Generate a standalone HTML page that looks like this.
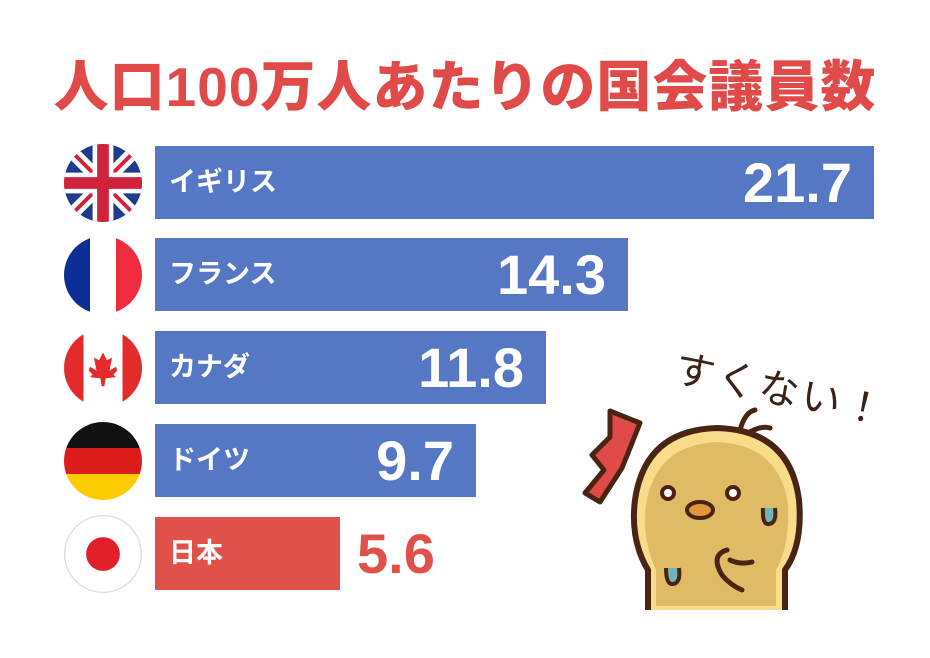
<!DOCTYPE html>
<html><head><meta charset="utf-8"><style>
body{margin:0;width:930px;height:658px;background:#fff;overflow:hidden;position:relative;font-family:"Liberation Sans","Noto Sans CJK JP",sans-serif}
.t{position:absolute;top:42px;left:0;width:930px;text-align:center;font-size:55px;font-weight:900;color:#e04a48;letter-spacing:1px}
.bar{position:absolute;left:155px;height:73px;background:#5677c4;color:#fff}
.lab{position:absolute;left:14px;top:0;line-height:73px;font-size:27px;font-weight:bold}
.val{position:absolute;right:22px;top:0;line-height:73px;font-size:56px;font-weight:bold}
.flag{position:absolute;left:64px;width:78px;height:78px;border-radius:50%;overflow:hidden}
</style></head><body>
<div class="t">人口100万人あたりの国会議員数</div>

<div class="bar" style="top:146px;width:719px"><span class="lab">イギリス</span><span class="val">21.7</span></div>
<div class="bar" style="top:238px;width:473px"><span class="lab">フランス</span><span class="val">14.3</span></div>
<div class="bar" style="top:331px;width:391px"><span class="lab">カナダ</span><span class="val">11.8</span></div>
<div class="bar" style="top:424px;width:321px"><span class="lab">ドイツ</span><span class="val">9.7</span></div>
<div class="bar" style="top:517px;width:185px;background:#e0514a"><span class="lab">日本</span></div>
<div style="position:absolute;left:357px;top:517px;line-height:73px;font-size:56px;font-weight:bold;color:#e0514a">5.6</div>

<svg class="flag" style="top:144px" viewBox="0 0 60 60"><rect width="60" height="60" fill="#1f3c8c"/><path d="M0 0L60 60M60 0L0 60" stroke="#fff" stroke-width="10"/><path d="M0 0L60 60M60 0L0 60" stroke="#d0223a" stroke-width="3"/><path d="M30 0V60M0 30H60" stroke="#fff" stroke-width="16"/><path d="M30 0V60M0 30H60" stroke="#d0223a" stroke-width="9"/></svg>
<svg class="flag" style="top:236px" viewBox="0 0 60 60"><rect width="20" height="60" fill="#0b2f95"/><rect x="20" width="20" height="60" fill="#fff"/><rect x="40" width="20" height="60" fill="#ef2b40"/></svg>
<svg class="flag" style="top:329px" viewBox="0 0 60 60"><rect width="60" height="60" fill="#fff"/><rect width="15" height="60" fill="#e32b2b"/><rect x="45" width="15" height="60" fill="#e32b2b"/><path d="M30 18L33 24L37 22L35 32L40 29L41 32L38 35L40 37L32 38L31 44H29L28 38L20 37L22 35L19 32L20 29L25 32L23 22L27 24Z" fill="#e32b2b"/></svg>
<svg class="flag" style="top:422px" viewBox="0 0 60 60"><rect width="60" height="20" fill="#111"/><rect y="20" width="60" height="20" fill="#dd1c1c"/><rect y="40" width="60" height="20" fill="#fccc00"/></svg>
<svg class="flag" style="top:515px;box-shadow:inset 0 0 0 1px #ddd" viewBox="0 0 60 60"><circle cx="30" cy="30" r="29.5" fill="#fff" stroke="#ddd"/><circle cx="30" cy="30" r="13" fill="#e3202a"/></svg>

<div style="position:absolute;left:682px;top:336px;font-size:40px;color:#3a2418;transform:rotate(12deg);transform-origin:left top;letter-spacing:3px">すくない！</div>
<svg style="position:absolute;left:570px;top:400px" width="260" height="230" viewBox="570 400 260 230">
<path d="M610 411L640 423L622 468L600 502L585 493L604 470L592 455L610 437Z" fill="#e04a48" stroke="#4a2412" stroke-width="5" stroke-linejoin="round"/>
<path d="M740 430Q745 412 755 410M745 435Q760 425 770 428" stroke="#4a2412" stroke-width="5" fill="none" stroke-linecap="round"/>
<path d="M648 610V570Q630 540 635 500Q645 430 717 428Q790 430 799 500Q803 545 785 570V610" fill="#f8dc8a" stroke="#4a2412" stroke-width="6"/>
<path d="M656 606V570Q642 540 646 505Q655 445 717 442Q780 445 788 505Q790 545 776 570V606Z" fill="#dfbb66"/>
<circle cx="668" cy="493" r="6" fill="#fff" stroke="#4a2412" stroke-width="4"/>
<circle cx="733" cy="493" r="6" fill="#fff" stroke="#4a2412" stroke-width="4"/>
<ellipse cx="700" cy="510" rx="13" ry="8" fill="#e0963c" stroke="#4a2412" stroke-width="4"/>
<path d="M763 508Q762 525 769 524Q777 523 775 508" fill="#6fb7b5" stroke="#4a2412" stroke-width="4"/>
<path d="M666 568Q666 585 673 584Q681 583 679 568" fill="#6fb7b5" stroke="#4a2412" stroke-width="4"/>
<path d="M727 550Q710 555 722 575Q730 585 742 590M730 560Q740 565 752 562" stroke="#4a2412" stroke-width="5" fill="none" stroke-linecap="round"/>
</svg>
</body></html>
